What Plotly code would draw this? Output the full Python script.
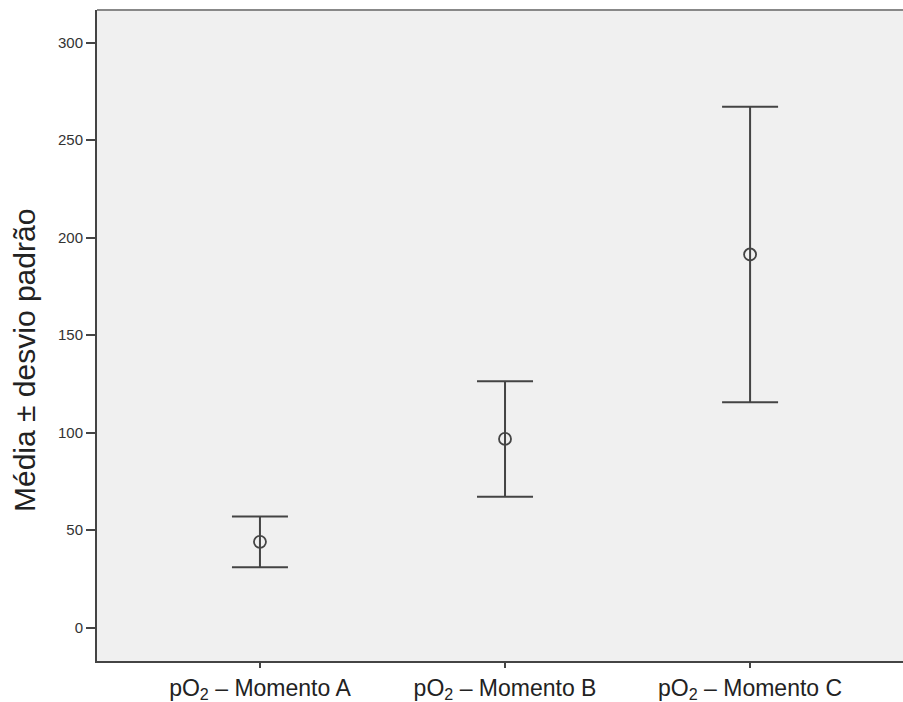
import plotly.graph_objects as go

categories = ["pO<sub>2</sub> – Momento A", "pO<sub>2</sub> – Momento B", "pO<sub>2</sub> – Momento C"]
means = [44.0, 96.8, 191.4]
sd = [13.0, 29.6, 75.8]
y_ticks = [0, 50, 100, 150, 200, 250, 300]

xpos = list(range(len(categories)))

fig = go.Figure()
fig.add_trace(go.Scatter(
    x=xpos, y=means, mode="markers",
    marker=dict(symbol="circle-open", size=12, color="#444444", line=dict(width=1.8, color="#444444")),
    error_y=dict(type="data", array=sd, visible=True, color="#444444", thickness=2, width=28),
    showlegend=False,
))

fig.update_layout(
    width=903, height=702,
    margin=dict(l=97, r=0, t=10, b=41, autoexpand=False),
    paper_bgcolor="white",
    plot_bgcolor="#f0f0f0",
    font=dict(family="Liberation Sans, Arial, sans-serif", color="#222222"),
    xaxis=dict(
        range=[-0.665, 2.624],
        tickvals=xpos, ticktext=categories,
        showgrid=False, zeroline=False,
        showline=True, linecolor="#444444", linewidth=2,
        ticks="outside", ticklen=5, tickwidth=2, tickcolor="#444444",
        tickfont=dict(size=23, color="#222222"),
    ),
    yaxis=dict(
        range=[-17.1, 316.8],
        tickvals=y_ticks,
        showgrid=False, zeroline=False,
        showline=True, linecolor="#444444", linewidth=2,
        ticks="outside", ticklen=9, tickwidth=2, tickcolor="#444444",
        tickfont=dict(size=15, color="#333333"),
    ),
    shapes=[dict(type="line", xref="paper", yref="paper", x0=0, x1=1, y0=1, y1=1,
                 line=dict(color="#888888", width=2))],
    annotations=[dict(
        text="Média ± desvio padrão", xref="paper", yref="paper",
        x=(24 - 97) / 806, y=(661 - 361) / 651, xanchor="center", yanchor="middle",
        textangle=-90, showarrow=False,
        font=dict(size=30, color="#222222"),
    )],
)

fig.write_html("out.html", config={"displayModeBar": False},
               post_script="document.body.style.margin='0';document.body.style.overflow='hidden';")
